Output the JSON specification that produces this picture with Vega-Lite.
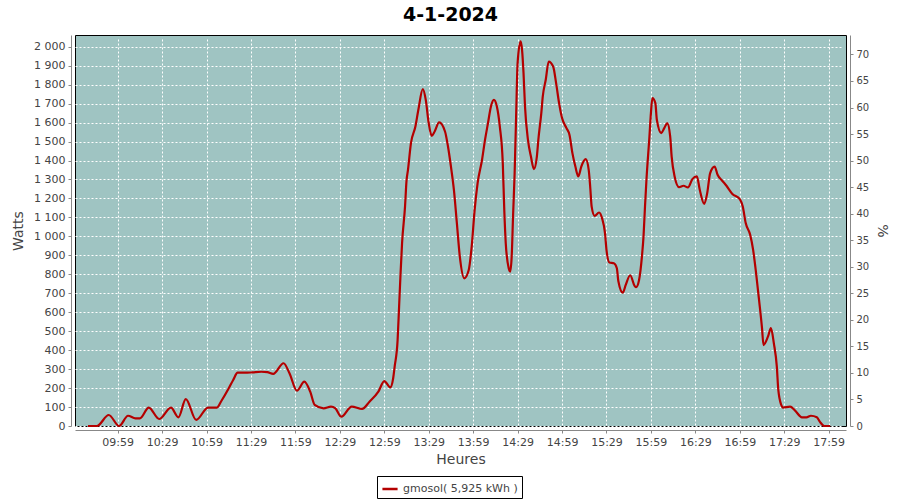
{
  "$schema": "https://vega.github.io/schema/vega-lite/v6.json",
  "autosize": "none",
  "width": 771,
  "height": 391,
  "padding": {"left": 75, "top": 35, "right": 54, "bottom": 74},
  "background": "white",
  "title": {"text": "4-1-2024", "font": "DejaVu Sans", "fontSize": 19, "fontWeight": "bold", "color": "black", "offset": 10, "dx": -10},
  "config": {
    "view": {"fill": "#9fc4c2", "stroke": "black", "strokeWidth": 1},
    "axis": {
      "domainColor": "#888888", "tickColor": "#888888", "tickSize": 3, "offset": 4,
      "labelFont": "DejaVu Sans", "labelFontSize": 11, "labelColor": "#444444", "labelPadding": 3,
      "titleFont": "DejaVu Sans", "titleFontSize": 14, "titleFontWeight": "normal", "titleColor": "#444444",
      "gridColor": "white", "gridDash": [2, 2], "gridOpacity": 1, "gridWidth": 1
    }
  },
  "resolve": {"scale": {"y": "independent"}},
  "layer": [
    {
      "data": {
        "format": {"parse": {"t": "utc:'%H:%M'"}},
        "values": [
          {"t": "09:39", "w": 0}, {"t": "09:45", "w": 0}, {"t": "09:53", "w": 58}, {"t": "10:00", "w": 0},
          {"t": "10:06", "w": 54}, {"t": "10:11", "w": 40}, {"t": "10:14", "w": 40}, {"t": "10:20", "w": 97},
          {"t": "10:27", "w": 37}, {"t": "10:35", "w": 97}, {"t": "10:40", "w": 46}, {"t": "10:45", "w": 142},
          {"t": "10:52", "w": 32}, {"t": "11:00", "w": 97}, {"t": "11:06", "w": 97}, {"t": "11:09", "w": 132},
          {"t": "11:14", "w": 199}, {"t": "11:17", "w": 243}, {"t": "11:20", "w": 281}, {"t": "11:25", "w": 281},
          {"t": "11:30", "w": 283}, {"t": "11:36", "w": 286}, {"t": "11:40", "w": 284}, {"t": "11:44", "w": 275},
          {"t": "11:51", "w": 331}, {"t": "11:55", "w": 278}, {"t": "12:00", "w": 186}, {"t": "12:05", "w": 234},
          {"t": "12:09", "w": 181}, {"t": "12:12", "w": 111}, {"t": "12:18", "w": 93}, {"t": "12:23", "w": 102},
          {"t": "12:26", "w": 93}, {"t": "12:30", "w": 49}, {"t": "12:37", "w": 102}, {"t": "12:44", "w": 90},
          {"t": "12:49", "w": 128}, {"t": "12:55", "w": 181}, {"t": "12:59", "w": 237}, {"t": "13:03", "w": 204},
          {"t": "13:05", "w": 252}, {"t": "13:06", "w": 313}, {"t": "13:08", "w": 454}, {"t": "13:09", "w": 630},
          {"t": "13:10", "w": 806}, {"t": "13:11", "w": 964}, {"t": "13:13", "w": 1157}, {"t": "13:14", "w": 1293},
          {"t": "13:15", "w": 1351}, {"t": "13:17", "w": 1492}, {"t": "13:20", "w": 1579}, {"t": "13:22", "w": 1668},
          {"t": "13:25", "w": 1777}, {"t": "13:27", "w": 1720}, {"t": "13:29", "w": 1597}, {"t": "13:31", "w": 1530},
          {"t": "13:33", "w": 1553}, {"t": "13:36", "w": 1601}, {"t": "13:40", "w": 1553}, {"t": "13:42", "w": 1474},
          {"t": "13:44", "w": 1368}, {"t": "13:46", "w": 1245}, {"t": "13:48", "w": 1070}, {"t": "13:50", "w": 893},
          {"t": "13:53", "w": 779}, {"t": "13:56", "w": 823}, {"t": "13:58", "w": 946}, {"t": "14:00", "w": 1140},
          {"t": "14:02", "w": 1281}, {"t": "14:05", "w": 1404}, {"t": "14:07", "w": 1509}, {"t": "14:09", "w": 1597},
          {"t": "14:11", "w": 1685}, {"t": "14:13", "w": 1720}, {"t": "14:15", "w": 1685}, {"t": "14:17", "w": 1579},
          {"t": "14:19", "w": 1386}, {"t": "14:20", "w": 1140}, {"t": "14:21", "w": 964}, {"t": "14:23", "w": 832},
          {"t": "14:24", "w": 814}, {"t": "14:25", "w": 893}, {"t": "14:26", "w": 1122}, {"t": "14:27", "w": 1334},
          {"t": "14:28", "w": 1632}, {"t": "14:29", "w": 1914}, {"t": "14:31", "w": 2028}, {"t": "14:32", "w": 1984},
          {"t": "14:33", "w": 1861}, {"t": "14:34", "w": 1685}, {"t": "14:36", "w": 1509}, {"t": "14:38", "w": 1421},
          {"t": "14:40", "w": 1355}, {"t": "14:42", "w": 1421}, {"t": "14:43", "w": 1509}, {"t": "14:45", "w": 1650},
          {"t": "14:46", "w": 1738}, {"t": "14:48", "w": 1826}, {"t": "14:50", "w": 1922}, {"t": "14:53", "w": 1896},
          {"t": "14:55", "w": 1808}, {"t": "14:57", "w": 1703}, {"t": "14:59", "w": 1624}, {"t": "15:02", "w": 1571},
          {"t": "15:04", "w": 1536}, {"t": "15:06", "w": 1439}, {"t": "15:08", "w": 1368}, {"t": "15:10", "w": 1316},
          {"t": "15:12", "w": 1368}, {"t": "15:15", "w": 1407}, {"t": "15:17", "w": 1351}, {"t": "15:18", "w": 1263},
          {"t": "15:19", "w": 1157}, {"t": "15:21", "w": 1108}, {"t": "15:24", "w": 1126}, {"t": "15:26", "w": 1096},
          {"t": "15:28", "w": 1017}, {"t": "15:29", "w": 929}, {"t": "15:31", "w": 862}, {"t": "15:34", "w": 858},
          {"t": "15:36", "w": 832}, {"t": "15:37", "w": 765}, {"t": "15:40", "w": 703}, {"t": "15:42", "w": 744},
          {"t": "15:45", "w": 795}, {"t": "15:48", "w": 739}, {"t": "15:49", "w": 732}, {"t": "15:51", "w": 770},
          {"t": "15:53", "w": 900}, {"t": "15:54", "w": 999}, {"t": "15:55", "w": 1157}, {"t": "15:56", "w": 1300},
          {"t": "15:58", "w": 1527}, {"t": "15:59", "w": 1650}, {"t": "16:00", "w": 1729}, {"t": "16:02", "w": 1703},
          {"t": "16:03", "w": 1615}, {"t": "16:06", "w": 1545}, {"t": "16:08", "w": 1571}, {"t": "16:10", "w": 1597},
          {"t": "16:12", "w": 1527}, {"t": "16:13", "w": 1421}, {"t": "16:15", "w": 1316}, {"t": "16:18", "w": 1260},
          {"t": "16:21", "w": 1267}, {"t": "16:24", "w": 1258}, {"t": "16:27", "w": 1302}, {"t": "16:30", "w": 1316},
          {"t": "16:32", "w": 1245}, {"t": "16:35", "w": 1171}, {"t": "16:37", "w": 1228}, {"t": "16:39", "w": 1334},
          {"t": "16:42", "w": 1368}, {"t": "16:44", "w": 1325}, {"t": "16:47", "w": 1295}, {"t": "16:50", "w": 1267},
          {"t": "16:54", "w": 1224}, {"t": "16:59", "w": 1196}, {"t": "17:01", "w": 1157}, {"t": "17:03", "w": 1070},
          {"t": "17:06", "w": 1008}, {"t": "17:08", "w": 929}, {"t": "17:10", "w": 806}, {"t": "17:12", "w": 665},
          {"t": "17:14", "w": 516}, {"t": "17:15", "w": 427}, {"t": "17:18", "w": 471}, {"t": "17:20", "w": 516},
          {"t": "17:22", "w": 436}, {"t": "17:24", "w": 313}, {"t": "17:25", "w": 190}, {"t": "17:27", "w": 111},
          {"t": "17:28", "w": 97}, {"t": "17:33", "w": 102}, {"t": "17:36", "w": 84}, {"t": "17:41", "w": 46},
          {"t": "17:44", "w": 46}, {"t": "17:47", "w": 54}, {"t": "17:51", "w": 46}, {"t": "17:53", "w": 23},
          {"t": "17:56", "w": 0}, {"t": "18:00", "w": 0}
        ]
      },
      "mark": {"type": "line", "strokeWidth": 2.2, "interpolate": "monotone"},
      "encoding": {
        "x": {
          "field": "t", "type": "temporal",
          "scale": {"type": "utc", "domain": [
            {"year": 1900, "month": 1, "date": 1, "hours": 9, "minutes": 30, "seconds": 12, "utc": true},
            {"year": 1900, "month": 1, "date": 1, "hours": 18, "minutes": 10, "seconds": 42, "utc": true}
          ]},
          "axis": {
            "orient": "bottom", "title": "Heures", "format": "%H:%M", "grid": true, "titlePadding": 5,
            "values": [
              {"year": 1900, "month": 1, "date": 1, "hours": 9, "minutes": 59, "utc": true},
              {"year": 1900, "month": 1, "date": 1, "hours": 10, "minutes": 29, "utc": true},
              {"year": 1900, "month": 1, "date": 1, "hours": 10, "minutes": 59, "utc": true},
              {"year": 1900, "month": 1, "date": 1, "hours": 11, "minutes": 29, "utc": true},
              {"year": 1900, "month": 1, "date": 1, "hours": 11, "minutes": 59, "utc": true},
              {"year": 1900, "month": 1, "date": 1, "hours": 12, "minutes": 29, "utc": true},
              {"year": 1900, "month": 1, "date": 1, "hours": 12, "minutes": 59, "utc": true},
              {"year": 1900, "month": 1, "date": 1, "hours": 13, "minutes": 29, "utc": true},
              {"year": 1900, "month": 1, "date": 1, "hours": 13, "minutes": 59, "utc": true},
              {"year": 1900, "month": 1, "date": 1, "hours": 14, "minutes": 29, "utc": true},
              {"year": 1900, "month": 1, "date": 1, "hours": 14, "minutes": 59, "utc": true},
              {"year": 1900, "month": 1, "date": 1, "hours": 15, "minutes": 29, "utc": true},
              {"year": 1900, "month": 1, "date": 1, "hours": 15, "minutes": 59, "utc": true},
              {"year": 1900, "month": 1, "date": 1, "hours": 16, "minutes": 29, "utc": true},
              {"year": 1900, "month": 1, "date": 1, "hours": 16, "minutes": 59, "utc": true},
              {"year": 1900, "month": 1, "date": 1, "hours": 17, "minutes": 29, "utc": true},
              {"year": 1900, "month": 1, "date": 1, "hours": 17, "minutes": 59, "utc": true}
            ]
          }
        },
        "y": {
          "field": "w", "type": "quantitative",
          "scale": {"domain": [0, 2062], "nice": false, "zero": true},
          "axis": {
            "orient": "left", "title": "Watts", "grid": true, "titlePadding": 8,
            "values": [0, 100, 200, 300, 400, 500, 600, 700, 800, 900, 1000, 1100, 1200, 1300, 1400, 1500, 1600, 1700, 1800, 1900, 2000],
            "labelExpr": "replace(format(datum.value, ','), ',', ' ')"
          }
        },
        "color": {
          "datum": "gmosol( 5,925 kWh )",
          "scale": {"range": ["#b40000"]},
          "legend": {
            "title": null, "orient": "none", "legendX": 302, "legendY": 441,
            "strokeColor": "black", "padding": 4, "fillColor": "white",
            "labelFont": "DejaVu Sans", "labelFontSize": 11, "labelColor": "#444444",
            "symbolType": "stroke", "symbolStrokeWidth": 2.5, "symbolSize": 230
          }
        }
      }
    },
    {
      "data": {"values": [{"p": 0}, {"p": 70}]},
      "mark": {"type": "point", "opacity": 0},
      "encoding": {
        "y": {
          "field": "p", "type": "quantitative",
          "scale": {"domain": [0, 73.66], "nice": false, "zero": true},
          "axis": {
            "orient": "right", "title": "%", "grid": false, "titlePadding": 6,
            "values": [0, 5, 10, 15, 20, 25, 30, 35, 40, 45, 50, 55, 60, 65, 70],
            "labelFontSize": 10
          }
        }
      }
    }
  ]
}
